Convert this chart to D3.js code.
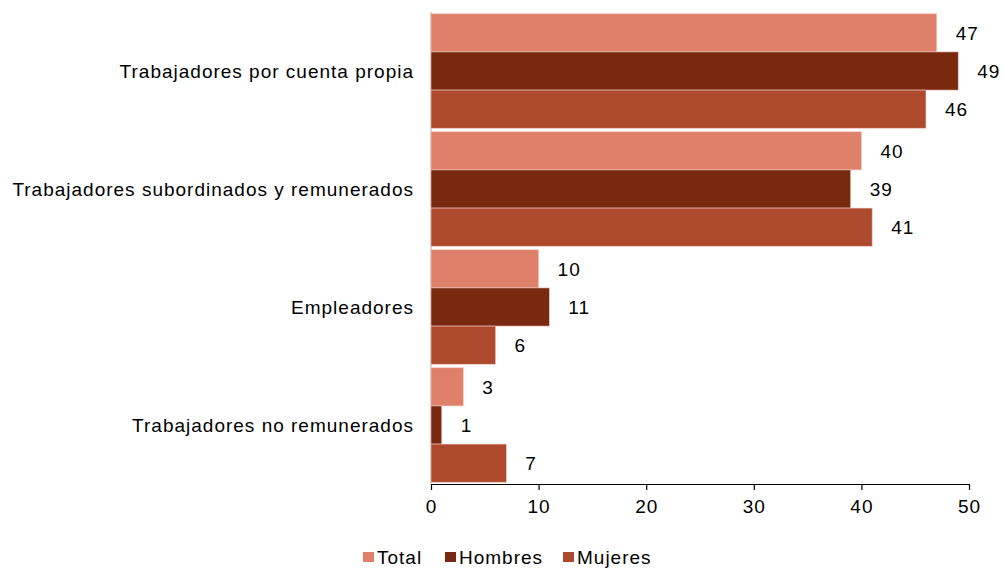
<!DOCTYPE html>
<html>
<head>
<meta charset="utf-8">
<script src="https://cdn.jsdelivr.net/npm/d3@7"></script>
<style>
    body { margin: 0; background: #fff; }
    text { font-family: "Liberation Sans", Arial, sans-serif; fill: #000; letter-spacing: 1px; }
</style>
</head>
<body>
<div id="chart"></div>
<script>
// categories, top to bottom
const categories = [
    "Trabajadores por cuenta propia",
    "Trabajadores subordinados y remunerados",
    "Empleadores",
    "Trabajadores no remunerados"
];
const seriesNames = ["Total", "Hombres", "Mujeres"];
const totalValues = [47, 40, 10, 3];
const hombresValues = [49, 39, 11, 1];
const mujeresValues = [46, 41, 6, 7];
const xTicks = [0, 10, 20, 30, 40, 50];

const seriesColors = ["#de806a", "#7a2911", "#ad492d"];

const width = 1003, height = 568;
const margin = { top: 12, right: 34, bottom: 84, left: 431 };
const innerW = width - margin.left - margin.right;
const innerH = height - margin.top - margin.bottom;
const fontSize = 19;

const svg = d3.select("#chart").append("svg")
    .attr("width", width)
    .attr("height", height);

const g = svg.append("g")
    .attr("transform", "translate(" + margin.left + "," + margin.top + ")");

const x = d3.scaleLinear()
    .domain([0, 50])
    .range([0, innerW]);

const y0 = d3.scaleBand()
    .domain(categories)
    .range([0, innerH])
    .paddingInner(0.03)
    .paddingOuter(0.015);

const y1 = d3.scaleBand()
    .domain(seriesNames)
    .range([0, y0.bandwidth()]);

const valuesBySeries = [totalValues, hombresValues, mujeresValues];
const rows = categories.map((c, i) => ({
    category: c,
    values: seriesNames.map((s, j) => ({ series: s, value: valuesBySeries[j][i], color: seriesColors[j] }))
}));

// left axis line (light)
g.append("line")
    .attr("x1", 0).attr("x2", 0)
    .attr("y1", 0).attr("y2", innerH)
    .attr("stroke", "#c8c8c8")
    .attr("stroke-width", 1.5);

const groups = g.selectAll(".group")
    .data(rows)
    .enter()
    .append("g")
    .attr("class", "group")
    .attr("transform", d => "translate(0," + y0(d.category) + ")");

groups.selectAll("rect")
    .data(d => d.values)
    .enter()
    .append("rect")
    .attr("x", 0)
    .attr("y", d => y1(d.series))
    .attr("width", d => x(d.value))
    .attr("height", y1.bandwidth())
    .attr("fill", d => d.color)
    .attr("stroke", "#f0c8bc")
    .attr("stroke-width", 0.6);

groups.selectAll(".value-label")
    .data(d => d.values)
    .enter()
    .append("text")
    .attr("class", "value-label")
    .attr("x", d => x(d.value) + 19)
    .attr("y", d => y1(d.series) + y1.bandwidth() / 2)
    .attr("dy", "0.36em")
    .attr("font-size", fontSize)
    .text(d => d.value);

// category labels
g.selectAll(".cat-label")
    .data(categories)
    .enter()
    .append("text")
    .attr("class", "cat-label")
    .attr("x", -17)
    .attr("y", d => y0(d) + y0.bandwidth() / 2)
    .attr("dy", "0.36em")
    .attr("text-anchor", "end")
    .attr("font-size", fontSize)
    .text(d => d);

// bottom axis
const xAxis = g.append("g")
    .attr("transform", "translate(0," + innerH + ")")
    .call(d3.axisBottom(x).tickValues(xTicks).tickSize(6).tickSizeOuter(0).tickPadding(10));

xAxis.select(".domain").attr("stroke", "#000").attr("stroke-width", 1.2);
xAxis.selectAll(".tick line").attr("stroke", "#000").attr("stroke-width", 1.2);
xAxis.selectAll(".tick text")
    .attr("font-size", fontSize)
    .attr("font-family", "Liberation Sans, Arial, sans-serif")
    .attr("fill", "#000");

// legend
const legendX = [363, 445, 563];
const legend = svg.append("g")
    .attr("transform", "translate(0, 557)");

const items = legend.selectAll(".legend-item")
    .data(seriesNames)
    .enter()
    .append("g")
    .attr("class", "legend-item")
    .attr("transform", (d, i) => "translate(" + legendX[i] + ",0)");

items.append("rect")
    .attr("x", 0)
    .attr("y", -5)
    .attr("width", 11)
    .attr("height", 10)
    .attr("fill", (d, i) => seriesColors[i]);

items.append("text")
    .attr("x", 14)
    .attr("y", 0)
    .attr("dy", "0.36em")
    .attr("font-size", fontSize)
    .text(d => d);
</script>
</body>
</html>
